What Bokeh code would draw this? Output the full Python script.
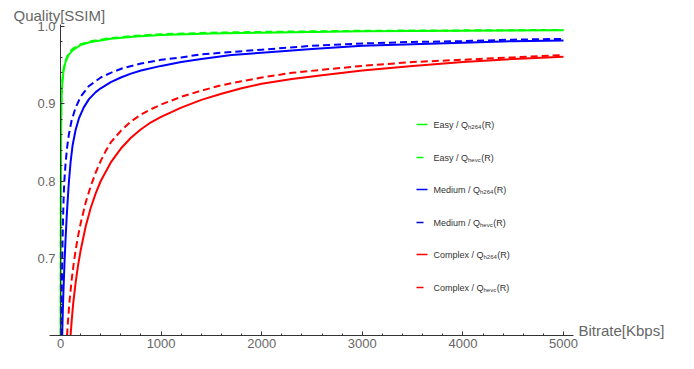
from bokeh.plotting import figure
from bokeh.models import Range1d, FixedTicker, Label, ColumnDataSource, NumeralTickFormatter
from bokeh.embed import file_html
from bokeh.resources import INLINE

# ---------------- data ----------------
rate_easy_h264 = [2, 3, 4, 5, 7, 10, 14, 20, 30, 50, 80, 120, 200, 300, 400, 500, 750, 1000, 1500, 2000, 3000, 4000, 5000]
q_easy_h264 = [0.600, 0.700, 0.780, 0.830, 0.880, 0.905, 0.918, 0.930, 0.942, 0.954, 0.963, 0.969, 0.976, 0.980,
               0.982, 0.984, 0.987, 0.989, 0.991, 0.992, 0.994, 0.9945, 0.995]

rate_easy_hevc = [1.5, 2.5, 3.5, 5, 7, 10, 14, 20, 30, 50, 80, 120, 200, 300, 400, 500, 750, 1000, 1500, 2000, 3000, 4000, 5000]
q_easy_hevc = [0.600, 0.720, 0.800, 0.850, 0.890, 0.910, 0.922, 0.933, 0.945, 0.956, 0.965, 0.971, 0.977, 0.981,
               0.983, 0.985, 0.988, 0.990, 0.992, 0.993, 0.9945, 0.995, 0.9955]

rate_medium_h264 = [17, 20, 25, 30, 40, 50, 60, 70, 83, 100, 120, 150, 183, 230, 283, 350, 400, 500, 600, 700, 800,
                    1000, 1200, 1400, 1700, 2000, 2500, 3000, 3500, 4000, 4500, 5000]
q_medium_h264 = [0.600, 0.617, 0.640, 0.660, 0.695, 0.724, 0.750, 0.772, 0.798, 0.824, 0.846, 0.866, 0.881, 0.895,
                 0.906, 0.915, 0.920, 0.928, 0.934, 0.939, 0.943, 0.949, 0.954, 0.958, 0.963, 0.966, 0.971, 0.975,
                 0.977, 0.979, 0.981, 0.982]

rate_medium_hevc = [7, 10, 13, 17, 21, 25, 30, 35, 42, 50, 65, 83, 110, 150, 200, 283, 400, 500, 617, 800, 1000,
                    1200, 1400, 1700, 2000, 2500, 3000, 3500, 4000, 4500, 5000]
q_medium_hevc = [0.600, 0.630, 0.660, 0.695, 0.725, 0.750, 0.773, 0.791, 0.808, 0.822, 0.843, 0.860, 0.878, 0.895,
                 0.909, 0.923, 0.934, 0.940, 0.946, 0.952, 0.957, 0.960, 0.964, 0.967, 0.970, 0.975, 0.978, 0.980,
                 0.981, 0.983, 0.984]

rate_complex_h264 = [100, 110, 125, 150, 175, 200, 250, 300, 350, 400, 500, 600, 700, 800, 900, 1000, 1200, 1400,
                     1600, 1800, 2000, 2300, 2600, 3000, 3500, 4000, 4500, 5000]
q_complex_h264 = [0.600, 0.617, 0.640, 0.668, 0.691, 0.710, 0.741, 0.765, 0.784, 0.800, 0.824, 0.842, 0.856, 0.867,
                  0.876, 0.883, 0.895, 0.905, 0.913, 0.920, 0.926, 0.932, 0.937, 0.943, 0.949, 0.954, 0.958, 0.961]

rate_complex_hevc = [65, 75, 90, 110, 130, 150, 175, 200, 250, 300, 350, 400, 450, 500, 600, 700, 800, 900, 1000,
                     1200, 1400, 1600, 1800, 2000, 2300, 2600, 3000, 3500, 4000, 4500, 5000]
q_complex_hevc = [0.600, 0.620, 0.645, 0.671, 0.692, 0.710, 0.729, 0.745, 0.772, 0.793, 0.811, 0.826, 0.839, 0.850,
                  0.865, 0.877, 0.886, 0.893, 0.899, 0.909, 0.917, 0.924, 0.929, 0.934, 0.940, 0.944, 0.949, 0.954,
                  0.957, 0.960, 0.963]

x_ticks = [0, 1000, 2000, 3000, 4000, 5000]
y_ticks = [0.7, 0.8, 0.9, 1.0]

legend_prefix = ["Easy / Q", "Easy / Q", "Medium / Q", "Medium / Q", "Complex / Q", "Complex / Q"]
legend_sub = ["h264", "hevc", "h264", "hevc", "h264", "hevc"]
legend_suffix = "(R)"

GREEN, BLUE, RED = "#00ff00", "#0000ff", "#ff0000"

# ---------------- layout (canvas pixel geometry) ----------------
W, H = 678, 353
PX_X0, PX_X5000 = 60, 563      # canvas x of 0 and 5000 kbps
PX_Y10, PX_Y06 = 26, 335       # canvas y of SSIM 1.0 and 0.6
SX = (PX_X5000 - PX_X0) / 5000.0
SY = (PX_Y06 - PX_Y10) / 0.4
X_START = -PX_X0 / SX
X_END = X_START + W / SX
Y_END = 1.0 + PX_Y10 / SY
Y_START = Y_END - H / SY


def xd(px):
    return X_START + px / SX


def yd(py):
    return Y_END - py / SY


FONT = "Liberation Sans"
GRAY = "#666666"
AXC = "#333333"

p = figure(width=W, height=H, output_backend="svg", toolbar_location=None,
           x_range=Range1d(X_START, X_END), y_range=Range1d(Y_START, Y_END), min_border=0)
p.outline_line_color = None
p.grid.visible = False
p.background_fill_color = "white"
p.border_fill_color = "white"

series = [
    (rate_easy_h264, q_easy_h264, GREEN, "solid"),
    (rate_easy_hevc, q_easy_hevc, GREEN, "7 4"),
    (rate_medium_h264, q_medium_h264, BLUE, "solid"),
    (rate_medium_hevc, q_medium_hevc, BLUE, "7 4"),
    (rate_complex_h264, q_complex_h264, RED, "solid"),
    (rate_complex_hevc, q_complex_hevc, RED, "7 4"),
]
for xs, ys, col, dash in series:
    src = ColumnDataSource(dict(x=xs, y=ys))
    p.line("x", "y", source=src, line_color=col, line_width=2, line_dash=dash, line_join="round")

# ---------------- axes (crossing at 0 / 0.6, as in the reference) ----------------
p.yaxis.fixed_location = 0
p.xaxis.fixed_location = 0.6
p.yaxis.bounds = (0.6, 1.002)
p.xaxis.bounds = (-110, 5100)
p.xaxis.ticker = FixedTicker(ticks=x_ticks, minor_ticks=[v for v in range(0, 5001, 200)])
p.yaxis.ticker = FixedTicker(ticks=y_ticks, minor_ticks=[round(0.6 + 0.02 * i, 2) for i in range(21)])
p.yaxis.formatter = NumeralTickFormatter(format="0.0")
for ax in (p.xaxis[0], p.yaxis[0]):
    ax.axis_line_color = AXC
    ax.axis_line_width = 1
    ax.major_tick_line_color = AXC
    ax.minor_tick_line_color = AXC
    ax.major_tick_in = 4
    ax.major_tick_out = 0
    ax.minor_tick_in = 2
    ax.minor_tick_out = 0
    ax.major_label_text_color = GRAY
    ax.major_label_text_font = FONT
    ax.major_label_text_font_size = "13px"
p.xaxis.major_label_standoff = 3
p.yaxis.major_label_standoff = 5

# axis titles
p.add_layout(Label(x=xd(13), y=yd(15), text="Quality[SSIM]", text_font=FONT, text_font_size="15px",
                   text_color=GRAY, text_baseline="middle", text_align="left"))
p.add_layout(Label(x=xd(578), y=yd(PX_Y06 - 5), text="Bitrate[Kbps]", text_font=FONT, text_font_size="15px",
                   text_color=GRAY, text_baseline="middle", text_align="left"))

# ---------------- manual legend (to allow the small subscripts) ----------------
ARIAL = {"E": 667, "a": 556, "s": 500, "y": 500, " ": 278, "/": 278, "Q": 778, "M": 833, "e": 556, "d": 556,
         "i": 222, "u": 556, "m": 833, "C": 722, "o": 556, "p": 556, "l": 222, "x": 500, "h": 556, "2": 556,
         "6": 556, "4": 556, "v": 500, "c": 500, "(": 333, "R": 722, ")": 333}


def tw(s, size):
    return sum(ARIAL.get(ch, 556) for ch in s) * size / 1000.0


legend_py = [124, 157, 189, 222, 254, 287]
legend_y = [yd(py) for py in legend_py]
legend_colors = [GREEN, GREEN, BLUE, "#0000cc", RED, RED]
legend_len = [11, 7, 11, 7, 11, 7]
seg = ColumnDataSource(dict(
    x0=[xd(416)] * 6,
    x1=[xd(416 + L) for L in legend_len],
    y=legend_y,
    c=legend_colors,
))
p.segment(x0="x0", y0="y", x1="x1", y1="y", line_color="c", line_width=1.5, source=seg)

MAIN, SUB = 9, 6
TX = 433
for pre, sub, y in zip(legend_prefix, legend_sub, legend_y):
    w1 = tw(pre, MAIN)
    w2 = tw(sub, SUB)
    p.add_layout(Label(x=xd(TX), y=y, text=pre, text_font=FONT, text_font_size=f"{MAIN}px", text_color="#333333",
                       text_baseline="middle", text_align="left"))
    p.add_layout(Label(x=xd(TX + w1), y=y - 2.2 / SY, text=sub, text_font=FONT, text_font_size=f"{SUB}px",
                       text_color="#333333", text_baseline="middle", text_align="left"))
    p.add_layout(Label(x=xd(TX + w1 + w2 + 0.5), y=y, text=legend_suffix, text_font=FONT,
                       text_font_size=f"{MAIN}px", text_color="#333333", text_baseline="middle", text_align="left"))

open("out.html", "w").write(file_html(p, INLINE))
